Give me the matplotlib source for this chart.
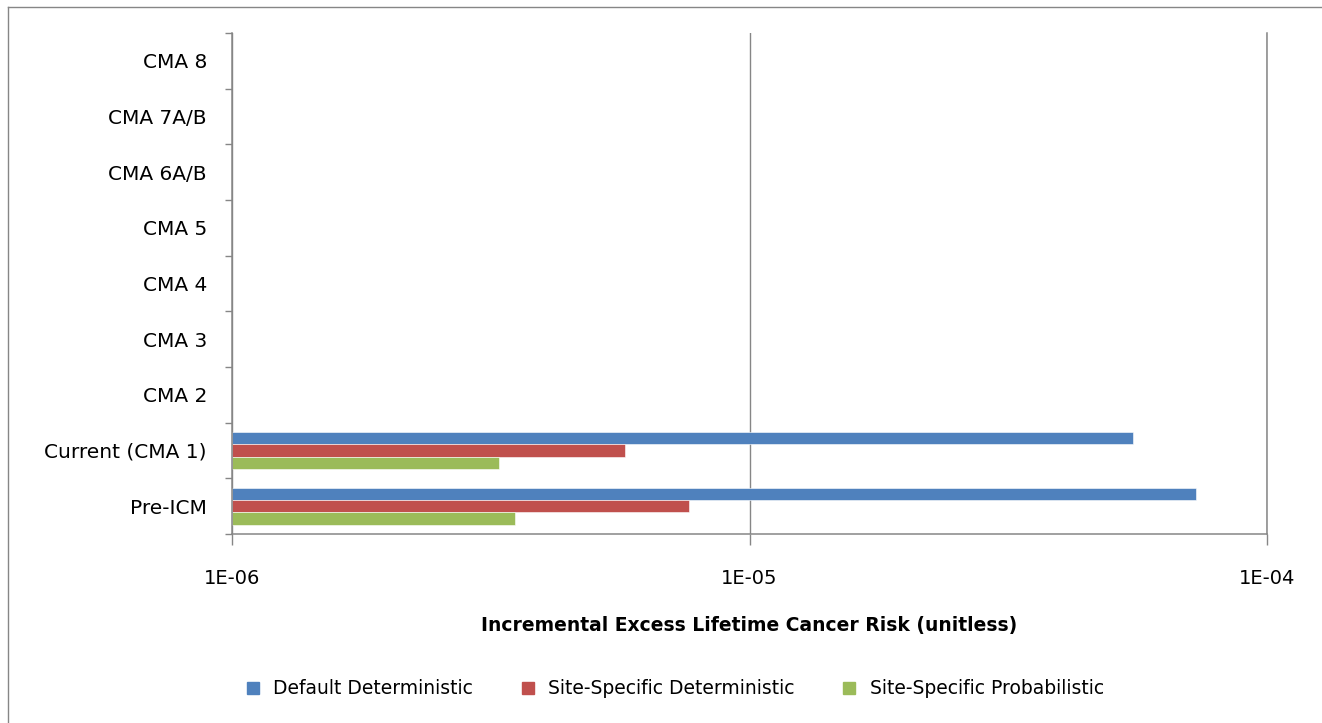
import numpy as np
import matplotlib
matplotlib.use('Agg')
import matplotlib.pyplot as plt
from matplotlib.lines import Line2D
from matplotlib.ticker import FixedLocator, NullLocator

plt.rcParams['font.family'] = ['DejaVu Sans']

# Datos del gráfico
categories = ['Pre-ICM', 'Current (CMA 1)', 'CMA 2', 'CMA 3', 'CMA 4',
              'CMA 5', 'CMA 6A/B', 'CMA 7A/B', 'CMA 8']
series_names = ['Default Deterministic', 'Site-Specific Deterministic',
                'Site-Specific Probabilistic']
default_det = [7.3e-5, 5.5e-5, np.nan, np.nan, np.nan, np.nan, np.nan, np.nan, np.nan]
site_det = [7.65e-6, 5.75e-6, np.nan, np.nan, np.nan, np.nan, np.nan, np.nan, np.nan]
site_prob = [3.53e-6, 3.28e-6, np.nan, np.nan, np.nan, np.nan, np.nan, np.nan, np.nan]
x_ticks = [1e-6, 1e-5, 1e-4]
x_tick_labels = ['1E-06', '1E-05', '1E-04']

colors = ['#4F81BD', '#C0504D', '#9BBB59']
grid_color = '#868686'

fig = plt.figure(figsize=(13.22, 7.23), dpi=100)
ax = fig.add_axes([232 / 1322, 1 - 534 / 723, (1267 - 232) / 1322, (534 - 33) / 723])

y = np.arange(len(categories))
h = 0.222
base = 1e-6
for vals, off, col in zip([default_det, site_det, site_prob], [h, 0, -h], colors):
    v = np.array(vals)
    ax.barh(y + off, v - base, left=base, height=h, color=col,
            edgecolor='white', linewidth=0.4)

ax.set_xscale('log')
ax.set_xlim(1e-6, 1e-4)
ax.set_ylim(-0.5, len(categories) - 0.5)

ax.xaxis.set_major_locator(FixedLocator(x_ticks))
ax.xaxis.set_minor_locator(NullLocator())
ax.set_xticklabels(x_tick_labels, fontsize=14)
ax.tick_params(axis='x', direction='out', length=8, width=1, color=grid_color, pad=17)

ax.set_yticks(y)
ax.set_yticklabels(categories, fontsize=14.5)
ax.yaxis.set_minor_locator(FixedLocator(np.arange(-0.5, len(categories), 1)))
ax.tick_params(axis='y', which='major', length=0, pad=18)
ax.tick_params(axis='y', which='minor', direction='out', length=5, width=1, color=grid_color)

ax.grid(axis='x', color=grid_color, linewidth=1)
ax.set_axisbelow(True)
ax.spines['top'].set_visible(False)
for s in ['left', 'bottom', 'right']:
    ax.spines[s].set_color(grid_color)
    ax.spines[s].set_linewidth(1.1)

ax.set_xlabel('Incremental Excess Lifetime Cancer Risk (unitless)',
              fontsize=13.5, fontweight='bold', labelpad=20)

handles = [Line2D([], [], marker='s', linestyle='none', markersize=8,
                  markerfacecolor=c, markeredgecolor=c) for c in colors]
fig.legend(handles, series_names, loc='center', bbox_to_anchor=(0.506, 1 - 689 / 723),
           ncol=3, frameon=False, fontsize=13.5, handletextpad=0.1, columnspacing=1.9)

# borde del área del gráfico
fig.add_artist(Line2D([8 / 1322, 1], [1 - 7 / 723, 1 - 7 / 723], color=grid_color, linewidth=1))
fig.add_artist(Line2D([8 / 1322, 8 / 1322], [0, 1 - 7 / 723], color=grid_color, linewidth=1))

fig.savefig('out.png', dpi=100)
